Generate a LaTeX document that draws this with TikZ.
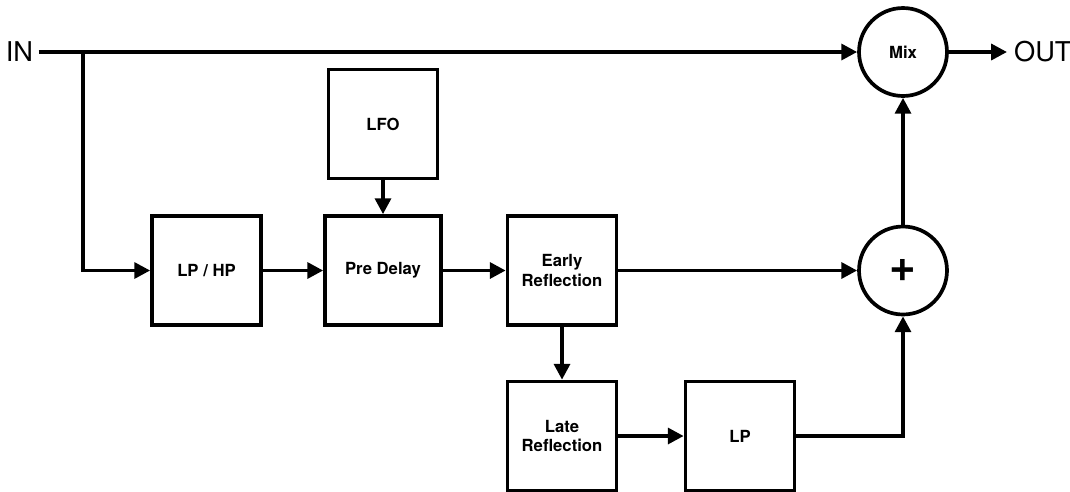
\documentclass[tikz,border=0pt]{standalone}
\usepackage{fontspec}
\setmainfont{TeX Gyre Heros}
\usetikzlibrary{arrows.meta}

\begin{document}
\begin{tikzpicture}[x=0.02cm, y=-0.02cm, line width=2.1pt,
  font=\bfseries\fontsize{9.5}{11}\selectfont,
  block/.style={draw, minimum width=2.18cm, minimum height=2.18cm, align=center, inner sep=0pt},
  sumnode/.style={draw, circle, minimum size=1.76cm, inner sep=0pt},
  port/.style={font=\fontsize{15.5}{17}\selectfont, inner sep=2pt},
  sig/.style={-{Triangle[length=9pt,width=9pt]}}]

  \useasboundingbox (0,0) rectangle (1070,491);

  % ---------- in / out ----------
  \node[port, anchor=east] (in) at (38.5,52) {IN};
  \node[sumnode] (mix) at (903,52) {Mix};
  \node[port, anchor=west, inner sep=3pt] (out) at (1007,52) {OUT};
  \coordinate (tap) at (83,52);

  % ---------- signal chain ----------
  \node[block] (lphp) at (206.5,270.5) {LP / HP};
  \node[block, minimum width=2.32cm] (predelay) at (383,270.5) {Pre Delay};
  \node[block] (lfo) at (383,124) {LFO};
  \node[block] (early) at (562,270.5) {Early\\Reflection};
  \node[sumnode, font=\bfseries\fontsize{26}{26}\selectfont] (plus) at (903,270.5) {+};
  \node[block] (late) at (562,436) {Late\\Reflection};
  \node[block] (lp) at (740,436) {LP};

  % ---------- connectors ----------
  \draw[sig] (in) -- (mix);
  \draw[sig] (tap) |- (lphp);
  \draw[sig] (lphp) -- (predelay);
  \draw[sig] (lfo) -- (predelay);
  \draw[sig] (predelay) -- (early);
  \draw[sig] (early) -- (plus);
  \draw[sig] (early) -- (late);
  \draw[sig] (late) -- (lp);
  \draw[sig] (lp) -| (plus);
  \draw[sig] (plus) -- (mix);
  \draw[sig] (mix) -- (out);

\end{tikzpicture}
\end{document}
